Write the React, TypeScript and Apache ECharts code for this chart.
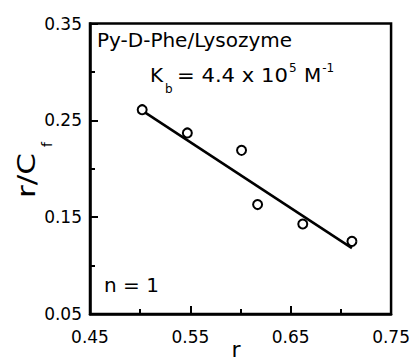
import React, { useEffect, useRef } from "react";
import * as echarts from "echarts";

const rValues = [0.502, 0.547, 0.601, 0.617, 0.662, 0.711];
const rCfValues = [0.261, 0.237, 0.219, 0.163, 0.143, 0.125];
const fitR = [0.502, 0.711];
const fitRCf = [0.260, 0.118];
const xTickRange = { min: 0.45, max: 0.75, step: 0.1 };
const yTickRange = { min: 0.05, max: 0.35, step: 0.1 };
const titleText = "Py-D-Phe/Lysozyme";
const nText = "n = 1";

const FONT = "DejaVu Sans";

function measure(text: string, size: number): number {
  const c = document.createElement("canvas").getContext("2d");
  if (!c) return text.length * size * 0.6;
  c.font = `${size}px "${FONT}"`;
  return c.measureText(text).width;
}

export default function App() {
  const ref = useRef<HTMLDivElement>(null);
  useEffect(() => {
    if (!ref.current) return;
    const chart = echarts.init(ref.current, undefined, { renderer: "svg" });
    const txt = (text: string, x: number, y: number, size: number, extra: any = {}) => ({
      type: "text",
      x,
      y,
      ...extra,
      style: {
        text,
        x: 0,
        y: 0,
        fill: "#000",
        font: `${size}px "${FONT}"`,
        fontSize: size,
        fontFamily: FONT,
        align: extra.align || "left",
        verticalAlign: "middle",
      },
    });
    const eqStart = 177;
    const eqText = "= 4.4 x 10";
    const eqW = measure(eqText, 20);
    const eqScale = eqW > 0 ? Math.min(1.2, Math.max(1, 111 / eqW)) : 1;
    const supX = eqStart + eqW * eqScale + 1;
    const mStart = 304;
    const sup2X = mStart + measure("M", 20) + 1;
    chart.setOption({
      animation: false,
      backgroundColor: "#fff",
      grid: {
        left: 90,
        right: 20,
        top: 23.5,
        bottom: 48,
        show: true,
        borderColor: "#000",
        borderWidth: 2.5,
      },
      xAxis: {
        type: "value",
        min: xTickRange.min,
        max: xTickRange.max,
        interval: xTickRange.step,
        axisLine: { show: true, lineStyle: { color: "#000", width: 2.5 } },
        axisTick: { show: true, inside: true, length: 8, lineStyle: { color: "#000", width: 2 } },
        minorTick: { show: true, splitNumber: 2, length: 5, lineStyle: { color: "#000", width: 2 } },
        splitLine: { show: false },
        minorSplitLine: { show: false },
        axisLabel: {
          color: "#000",
          fontSize: 17,
          fontFamily: FONT,
          margin: 14,
          formatter: (v: number) => v.toFixed(2),
        },
      },
      yAxis: {
        type: "value",
        min: yTickRange.min,
        max: yTickRange.max,
        interval: yTickRange.step,
        axisLine: { show: true, lineStyle: { color: "#000", width: 2.5 } },
        axisTick: { show: true, inside: true, length: 8, lineStyle: { color: "#000", width: 2 } },
        minorTick: { show: true, splitNumber: 2, length: 5, lineStyle: { color: "#000", width: 2 } },
        splitLine: { show: false },
        minorSplitLine: { show: false },
        axisLabel: {
          color: "#000",
          fontSize: 17,
          fontFamily: FONT,
          margin: 8,
          formatter: (v: number) => v.toFixed(2),
        },
      },
      series: [
        {
          type: "line",
          data: fitR.map((x, i) => [x, fitRCf[i]]),
          symbol: "none",
          lineStyle: { color: "#000", width: 2.5 },
          z: 2,
        },
        {
          type: "scatter",
          data: rValues.map((x, i) => [x, rCfValues[i]]),
          symbol: "circle",
          symbolSize: 9,
          itemStyle: { color: "#fff", borderColor: "#000", borderWidth: 2, opacity: 1 },
          z: 3,
        },
      ],
      graphic: [
        txt(titleText, 97, 40, 20),
        txt("K", 150, 75, 20),
        txt("b", 165, 89, 12),
        txt(eqText, eqStart, 75, 20, { scaleX: eqScale }),
        txt("5", supX, 67.8, 12),
        txt("M", mStart, 75, 20),
        txt("-1", sup2X, 67.8, 12),
        txt(nText, 104, 285, 20),
        txt("r/C", 27, 198, 24, { rotation: Math.PI / 2, scaleX: 1.3 }),
        txt("f", 46.9, 147, 14, { rotation: Math.PI / 2 }),
        txt("r", 236, 349, 22, { align: "center" }),
      ],
    });
    return () => chart.dispose();
  }, []);
  return <div ref={ref} style={{ width: 413, height: 362, position: "absolute", left: 0, top: 0 }} />;
}
